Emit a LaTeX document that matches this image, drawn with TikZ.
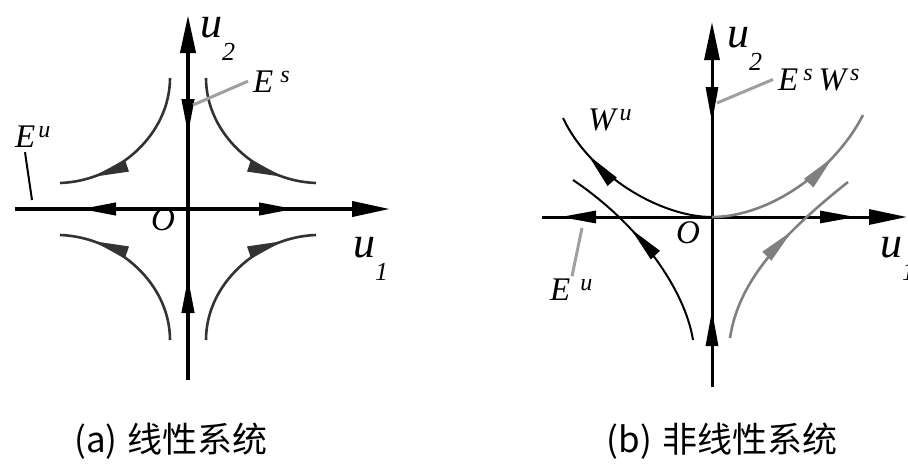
\documentclass[tikz,border=0pt]{standalone}
\usepackage{fontspec}
\setmainfont{Liberation Serif}
\newfontfamily\cjk{Noto Sans CJK SC}
\usetikzlibrary{arrows.meta, decorations.markings}

\newcommand\supscr[1]{\raisebox{10pt}{\fontsize{24}{24}\selectfont #1}}
\newcommand\subscr[1]{\raisebox{-23pt}{\fontsize{26}{26}\selectfont #1}}

\tikzset{flow/.tip={Triangle[length=36pt, width=12pt]}}

\begin{document}
\begin{tikzpicture}[x=1pt, y=-1pt,
  axis/.style={line width=4pt, -{Triangle[length=38pt, width=15pt]}},
  orbit/.style={line width=2.6pt, black!80},
  leader/.style={line width=3pt, gray!75},
  lbl/.style={font=\itshape\fontsize{33}{33}\selectfont, inner sep=0pt},
  axlbl/.style={font=\itshape\fontsize{44}{44}\selectfont, inner sep=0pt},
  captext/.style={font=\cjk\fontsize{35}{35}\selectfont, inner sep=0pt},
  flowtip/.style={postaction={decorate},
    decoration={markings, mark=at position #1 with {\arrow{flow}}}}
]
\useasboundingbox (0,0) rectangle (908,469);

% (a) linear system
\coordinate (Oa) at (188,209);
\coordinate (a-l) at (15,209);
\coordinate (a-r) at (390,209);
\coordinate (a-b) at (188,380);
\coordinate (a-t) at (188,15);
\draw[axis, postaction={decorate}, decoration={markings,
    mark=at position 65pt with {\arrowreversed{flow}},
    mark=at position 280pt with {\arrow{flow}}}] (a-l) -- (a-r);
\draw[axis, postaction={decorate}, decoration={markings,
    mark=at position 103pt with {\arrow{flow}},
    mark=at position 245pt with {\arrowreversed{flow}}}] (a-b) -- (a-t);

% hyperbolas, one per quadrant
\foreach \sx in {1,-1}
  \foreach \sy in {1,-1}
    \draw[orbit, shift={(Oa)}, xscale=\sx, yscale=\sy, flowtip=0.8]
      (-18,-131) .. controls (-18,-75) and (-70,-28) .. (-128,-26);

\node[axlbl, anchor=base west] (u2a) at (200,37) {u\hspace{0pt}\subscr{2}};
\node[axlbl, anchor=base west] (u1a) at (353,257) {u\hspace{0pt}\subscr{1}};
\node[lbl, anchor=base west] (Oa-lbl) at (151,230) {O};

\node[lbl, anchor=base west] (Esa) at (253,92) {E\hspace{7pt}\supscr{s}};
\coordinate (Esa-foot) at (193,105);
\draw[leader] (Esa-foot) -- ([xshift=-5pt]Esa.west);

\node[lbl, anchor=base west] (Eua) at (15,147) {E\hspace{3pt}\supscr{u}};
\coordinate (Eua-foot) at (32,200);
\draw[line width=2pt] (Eua-foot) -- ([xshift=10pt,yshift=-5pt]Eua.south west);

% (b) nonlinear system
\coordinate (Ob) at (712,217);
\coordinate (b-l) at (542,217);
\coordinate (b-r) at (907,217);
\coordinate (b-b) at (712,387);
\coordinate (b-t) at (712,22);
\draw[axis, line width=3pt, postaction={decorate}, decoration={markings,
    mark=at position 18pt with {\arrowreversed{flow}},
    mark=at position 314pt with {\arrow{flow}}}] (b-l) -- (b-r);
\draw[axis, line width=3pt, postaction={decorate}, decoration={markings,
    mark=at position 77pt with {\arrow{flow}},
    mark=at position 264pt with {\arrowreversed{flow}}}] (b-b) -- (b-t);

\draw[orbit, black, line width=2pt, flowtip=0.76]
  (Ob) .. controls (660,217) and (590,175) .. (563,118);
\draw[orbit, gray, line width=2.6pt, flowtip=0.73]
  (Ob) .. controls (770,217) and (835,170) .. (863,115);
\draw[orbit, black, line width=2pt, flowtip=0.63]
  (693,340) .. controls (685,290) and (640,225) .. (573,180);
\draw[orbit, gray, line width=2.6pt, flowtip=0.63]
  (730,338) .. controls (738,285) and (775,240) .. (848,182);

\node[axlbl, anchor=base west] (u2b) at (727,47) {u\hspace{0pt}\subscr{2}};
\node[axlbl, anchor=base west] (u1b) at (880,257) {u\hspace{0pt}\subscr{1}};
\node[lbl, anchor=base west] (Ob-lbl) at (676,243) {O};

\node[lbl, anchor=base west] (Esb) at (778,90) {E\hspace{5pt}\supscr{s}\hspace{6pt}W\hspace{4pt}\supscr{s}};
\coordinate (Esb-foot) at (717,103);
\draw[leader] (Esb-foot) -- ([xshift=-5pt]Esb.west);

\node[lbl, anchor=base west] (Wub) at (588,130) {W\hspace{4pt}\supscr{u}};

\node[lbl, anchor=base west] (Eub) at (550,300) {E\hspace{10pt}\supscr{u}};
\coordinate (Eub-foot) at (582,228);
\draw[leader] (Eub-foot) -- ([xshift=22pt,yshift=2pt]Eub.north west);

% captions
\node[captext] (capa) at (171,441) {(a)\hspace{10pt}线性系统};
\node[captext] (capb) at (722,441) {(b)\hspace{10pt}非线性系统};
\end{tikzpicture}
\end{document}
